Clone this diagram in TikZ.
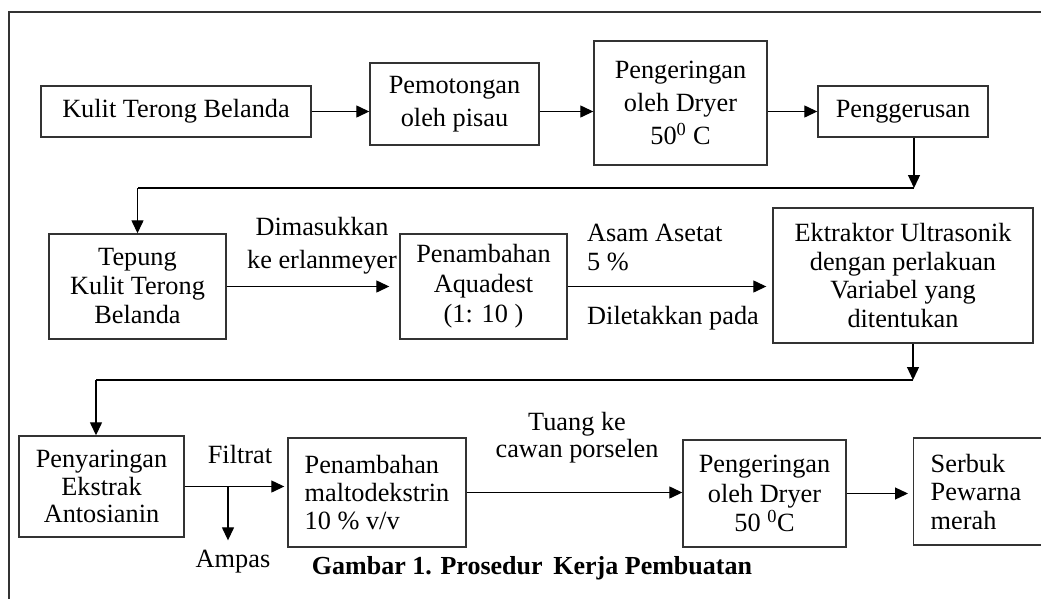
\documentclass[tikz,border=0pt]{standalone}
\usepackage{fontspec}
\setmainfont{Liberation Serif}
\usetikzlibrary{arrows.meta}
\begin{document}
\begin{tikzpicture}[x=1pt,y=-1pt,
  every node/.style={font=\fontsize{26.3}{29}\selectfont, inner sep=0pt},
  box/.style={draw=black!80, line width=1.4pt, align=center},
  arr/.style={line width=1.3pt, -{Triangle[length=13pt,width=12pt]}},
  ln/.style={line width=1.3pt},
  lbl/.style={align=center}]
\useasboundingbox (0,0) rectangle (1041,598);
% frame
\coordinate (f1) at (9,12);
\coordinate (f2) at (1060,12);
\coordinate (f3) at (9,620);
\draw[draw=black!80, line width=1.4pt] (f2) -- (f1) -- (f3);
% boxes
\node[box, minimum width=270, minimum height=51] (kulit) at (176,111.5) {Kulit Terong Belanda};
\node[box, minimum width=169, minimum height=82, font=\fontsize{26.3}{33}\selectfont] (pemo) at (454.5,104) {Pemotongan\\oleh pisau};
\node[box, minimum width=173, minimum height=124, font=\fontsize{26.3}{33}\selectfont] (peng1) at (680.5,103) {Pengeringan\\oleh Dryer\\50\textsuperscript{0} C};
\node[box, minimum width=170, minimum height=51] (gerus) at (903,111.5) {Penggerusan};
\node[box, minimum width=177, minimum height=105] (tepung) at (137.5,286.5) {Tepung\\Kulit Terong\\Belanda};
\node[box, minimum width=167, minimum height=105, font=\fontsize{26.3}{30}\selectfont] (aq) at (483.5,286.5) {Penambahan\\Aquadest\\(1: 10 )};
\node[box, minimum width=260, minimum height=135, font=\fontsize{26.3}{28.5}\selectfont] (ek) at (903,275.5) {Ektraktor Ultrasonik\\dengan perlakuan\\Variabel yang\\ditentukan};
\node[box, minimum width=165, minimum height=101, font=\fontsize{26.3}{27.5}\selectfont] (saring) at (101.5,486.5) {Penyaringan\\Ekstrak\\Antosianin};
\node[box, align=left, minimum width=178, minimum height=109, font=\fontsize{26.3}{28}\selectfont] (malto) at (377,492.5) {Penambahan\\maltodekstrin\\10 \% v/v};
\node[box, minimum width=163, minimum height=107, font=\fontsize{26.3}{29.5}\selectfont] (peng2) at (764.5,493.5) {Pengeringan\\oleh Dryer\\50 \textsuperscript{0}C};
\node[box, align=left, anchor=west, text width=110pt, inner xsep=17pt, minimum height=107, font=\fontsize{26.3}{28.5}\selectfont] (serbuk) at (913,491.5) {Serbuk\\Pewarna\\merah};
% labels
\node[lbl, font=\fontsize{26.3}{33}\selectfont] (dim) at (322,246) {Dimasukkan\\ke erlanmeyer};
\node[lbl, align=left, anchor=west] (asam) at (587,247.5) {Asam Asetat\\5 \%};
\node[anchor=west] (dilet) at (587,318) {Diletakkan pada};
\node (filt) at (240,454) {Filtrat};
\node (ampas) at (233,562) {Ampas};
\node[lbl, font=\fontsize{26.3}{27}\selectfont] (tuang) at (577,438) {Tuang ke\\cawan porselen};
\node[font=\bfseries\fontsize{26}{30}\selectfont] (cap) at (532,568) {Gambar 1. Prosedur\, Kerja Pembuatan};
% connectors
\draw[arr] (kulit.east) -- (kulit.east -| pemo.west);
\draw[arr] (pemo.east |- kulit.east) -- (peng1.west |- kulit.east);
\draw[arr] (peng1.east |- gerus.west) -- (gerus.west);
\coordinate (c1) at (914,188);
\coordinate (c2) at (137.5,188);
\draw[arr] ([xshift=11pt]gerus.south) -- (c1);
\draw[ln] (c1) -- (c2);
\draw[arr] (c2) -- (tepung.north);
\draw[arr, shorten >=10pt] (tepung.east) -- (aq.west);
\draw[arr, shorten >=6pt] (aq.east) -- (aq.east -| ek.west);
\coordinate (c3) at (913,380);
\coordinate (c4) at (96,380);
\draw[arr] ([xshift=10pt]ek.south) -- (c3);
\draw[ln] (c3) -- (c4);
\draw[arr] (c4) -- (c4 |- saring.north);
\draw[arr, shorten >=3pt] (saring.east) -- (saring.east -| malto.west);
\coordinate (br) at (228,486.5);
\draw[arr, shorten >=10pt] (br) -- (br |- ampas.north);
\draw[arr] (malto.east) -- (malto.east -| peng2.west);
\draw[arr, shorten >=5pt] (peng2.east) -- (peng2.east -| serbuk.west);
\end{tikzpicture}
\end{document}
